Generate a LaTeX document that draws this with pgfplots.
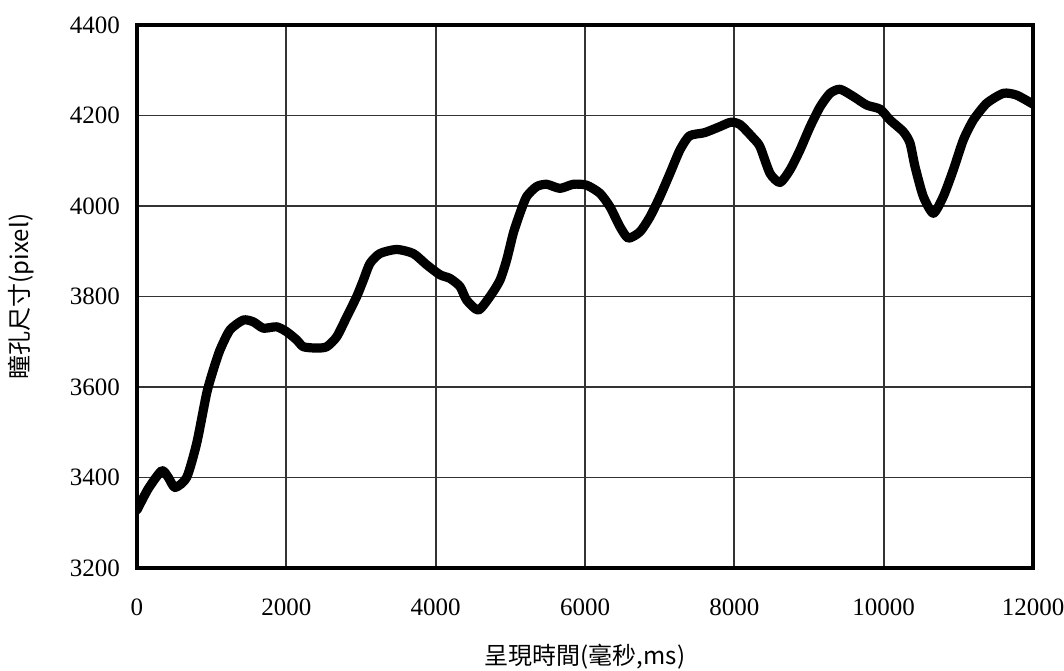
\documentclass[border=0pt]{standalone}
\usepackage{fontspec}
\setmainfont{Liberation Serif}
\newfontfamily\cjk{Noto Sans CJK TC}
\usepackage{pgfplots}
\pgfplotsset{compat=1.18}
\begin{document}
\begin{tikzpicture}
\begin{axis}[
  scale only axis,
  width=448pt, height=271.5pt,
  xmin=0, xmax=12000, ymin=3200, ymax=4400,
  xtick={0,2000,...,12000}, ytick={3200,3400,...,4400},
  grid=major,
  major grid style={black!80, line width=0.9pt},
  axis line style={black, line width=1.6pt},
  major tick length=0pt,
  scaled ticks=false,
  /pgf/number format/1000 sep={},
  /pgf/number format/assume math mode=true,
  ticklabel style={font=\fontsize{12.5}{14}\selectfont},
  xticklabel style={yshift=-12pt},
  yticklabel style={xshift=-5pt},
  xlabel={\cjk\fontsize{12}{14}\selectfont 呈現時間(毫秒,ms)},
  ylabel={\cjk\fontsize{12}{14}\selectfont 瞳孔尺寸(pixel)},
  xlabel style={yshift=-7pt},
  ylabel style={yshift=11pt},
]
\addplot[black, line width=4.6pt, line join=round, line cap=round, smooth, tension=0.4] coordinates {
(0,3328) (150,3375) (331,3415) (420,3400) (509,3378) (665,3400) (800,3476)
(933,3586) (1022,3638) (1112,3682) (1245,3726) (1424,3748) (1558,3744)
(1692,3730) (1871,3733) (2005,3722) (2139,3704) (2228,3689) (2407,3686)
(2541,3689) (2675,3711) (2809,3755) (2943,3800) (3031,3836) (3120,3873)
(3254,3895) (3478,3904) (3700,3895) (3880,3870) (4058,3848) (4192,3840)
(4326,3822) (4415,3792) (4571,3770) (4727,3800) (4861,3836) (4951,3881)
(5040,3940) (5129,3984) (5219,4021) (5353,4043) (5487,4048) (5665,4039)
(5844,4048) (6022,4046) (6200,4028) (6335,3998) (6469,3954) (6580,3929)
(6736,3943) (6870,3976) (7004,4021) (7138,4072) (7272,4124) (7400,4155)
(7600,4162) (7800,4175) (7950,4185) (8076,4180) (8254,4150) (8344,4131)
(8478,4072) (8612,4052) (8746,4080) (8880,4124) (9014,4175) (9148,4219)
(9282,4249) (9416,4258) (9594,4242) (9773,4223) (9952,4214) (10086,4190)
(10264,4164) (10353,4139) (10420,4087) (10531,4021) (10665,3984) (10799,4021)
(10933,4080) (11067,4146) (11201,4190) (11380,4227) (11603,4249) (11781,4245)
(12000,4225)
};
\end{axis}
\pgfresetboundingbox
\path (-68.5pt,-51pt) rectangle (463.5pt,284pt);
\end{tikzpicture}
\end{document}
